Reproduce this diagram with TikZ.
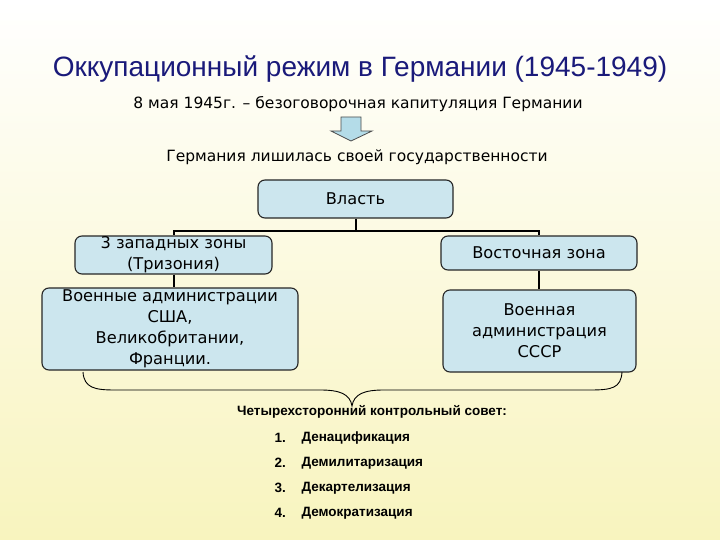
\documentclass[tikz,border=0pt]{standalone}
\usepackage{fontspec}
\setmainfont{DejaVu Sans}
\newfontfamily\arialf{Liberation Sans}
\definecolor{boxfill}{HTML}{CCE6EE}
\definecolor{arrfill}{HTML}{B4DCE8}
\definecolor{titleblue}{HTML}{1A1A7A}
\definecolor{bgbottom}{HTML}{F8F4BE}
\begin{document}
\begin{tikzpicture}[x=1pt,y=-1pt,
  blk/.style={draw=black!85,line width=1.1pt,rounded corners=7pt,fill=boxfill,align=center,font=\fontsize{16.2}{21}\selectfont,inner sep=0pt},
  conn/.style={draw=black,line width=2pt},
  lst/.style={anchor=west,font=\arialf\bfseries\fontsize{13.5}{16}\selectfont}]
\shade[top color=white,bottom color=bgbottom] (0,0) rectangle (720,540);
\useasboundingbox (0,0) rectangle (720,540);
\node[font=\arialf\fontsize{28}{32}\selectfont,text=titleblue] (title) at (360,69) {Оккупационный режим в Германии (1945-1949)};
\node[font=\fontsize{15.5}{18}\selectfont] (cap) at (358,104) {8 мая 1945г. – безоговорочная капитуляция Германии};
\draw[draw=black!70,fill=arrfill,line width=0.8pt,line join=miter] (341,117) -- (361,117) -- (361,131) -- (372,131) -- (351,141) -- (331,131) -- (341,131) -- cycle;
\node[font=\fontsize{15.5}{18}\selectfont] (ger) at (357,157) {Германия лишилась своей государственности};
\node[blk,minimum width=195pt,minimum height=38pt] (vl) at (355.5,199) {Власть};
\node[blk,minimum width=197pt,minimum height=38pt] (west) at (173.5,255) {3 западных зоны\\(Тризония)};
\node[blk,minimum width=196pt,minimum height=34pt] (east) at (539,253) {Восточная зона};
\node[blk,minimum width=256pt,minimum height=82pt] (wadm) at (170,329) {Военные администрации\\США,\\Великобритании,\\Франции.};
\node[blk,minimum width=193pt,minimum height=82pt] (eadm) at (539.5,331) {Военная\\администрация\\СССР};
\draw[conn] (vl.south) -- ++(0,12) coordinate (j) -| (west.north);
\draw[conn] (j) -| (east.north);
\draw[conn] (west.south) -- (west.south |- wadm.north);
\draw[conn] (east.south) -- (east.south |- eadm.north);
\coordinate (bl) at (83,372);
\coordinate (br) at (622,372);
\coordinate (bt) at (352,406);
\draw[line width=0.9pt] (bl) .. controls (84,388) and (95,390) .. (115,390) -- (320,390) .. controls (340,390) and (350,394) .. (bt) .. controls (354,394) and (364,390) .. (384,390) -- (590,390) .. controls (612,390) and (621,388) .. (br);
\node[font=\arialf\bfseries\fontsize{13.5}{16}\selectfont] (cc) at (372,412) {Четырехсторонний контрольный совет:};
\node[lst] (n1) at (271,438) {1.};
\node[lst] (t1) at (298,438) {Денацификация};
\node[lst] (n2) at (271,463) {2.};
\node[lst] (t2) at (298,463) {Демилитаризация};
\node[lst] (n3) at (271,488) {3.};
\node[lst] (t3) at (298,488) {Декартелизация};
\node[lst] (n4) at (271,513) {4.};
\node[lst] (t4) at (298,513) {Демократизация};
\end{tikzpicture}
\end{document}
